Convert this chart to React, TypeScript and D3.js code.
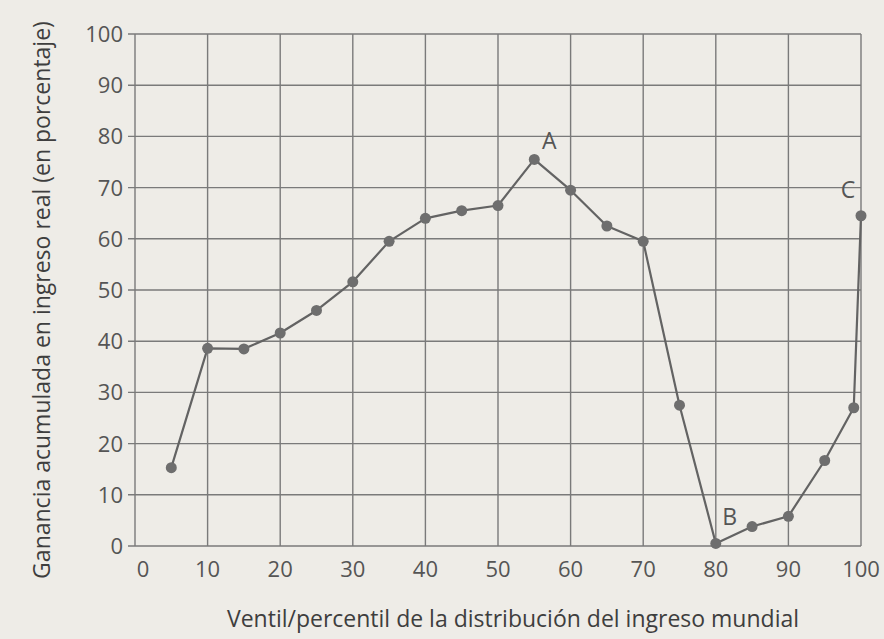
import React from "react";
import * as d3 from "d3";

// percentiles of the world income distribution
const percentiles = [5, 10, 15, 20, 25, 30, 35, 40, 45, 50, 55, 60, 65, 70, 75, 80, 85, 90, 95, 99, 100];
// cumulative real income gain (%)
const gains = [15.3, 38.6, 38.5, 41.6, 46, 51.6, 59.5, 64, 65.5, 66.5, 75.5, 69.5, 62.5, 59.5, 27.5, 0.5, 3.8, 5.8, 16.7, 27, 64.5];

const xTicks = [0, 10, 20, 30, 40, 50, 60, 70, 80, 90, 100];
const yTicks = [0, 10, 20, 30, 40, 50, 60, 70, 80, 90, 100];

const annotations = [
  {label: "A", x: 55, y: 75.5},
  {label: "B", x: 80, y: 0.5},
  {label: "C", x: 100, y: 64.5}
];
const labelOffsets: Record<string, [number, number]> = {
  A: [15, -10],
  B: [14, -18],
  C: [-13, -18]
};

const width = 884;
const height = 639;
const margin = {top: 34, right: 23, bottom: 93, left: 135};

const font = "'Open Sans', 'Noto Sans', sans-serif";
const ink = "#555";

export default function App() {
  const x = d3.scaleLinear().domain([0, 100]).range([margin.left, width - margin.right]);
  const y = d3.scaleLinear().domain([0, 100]).range([height - margin.bottom, margin.top]);

  const line = d3.line<number>()
    .x((d, i) => x(percentiles[i]))
    .y(d => y(d));

  const pathD = line(gains) || "";

  return (
    <svg width={width} height={height} style={{position: "absolute", left: 0, top: 0, background: "#eeece7"}}>
      <rect x={0} y={0} width={width} height={height} fill="#eeece7" />
      <g stroke="#7a7a7a" strokeWidth={1.4}>
        {yTicks.map(t => (
          <line key={"y" + t} x1={x(0) - 7} x2={x(100)} y1={y(t)} y2={y(t)} />
        ))}
        {xTicks.map(t => (
          <line key={"x" + t} x1={x(t)} x2={x(t)} y1={y(100)} y2={y(0)} />
        ))}
      </g>
      <g fill={ink} fontFamily={font} fontSize={22}>
        {yTicks.map(t => (
          <text key={"yl" + t} x={x(0) - 12} y={y(t)} dy="0.36em" textAnchor="end">{t}</text>
        ))}
        {xTicks.map(t => (
          <text key={"xl" + t} x={x(t) + (t === 0 ? 8 : 0)} y={y(0) + 31} textAnchor="middle">{t}</text>
        ))}
      </g>
      <path d={pathD} fill="none" stroke="#636363" strokeWidth={2.2} strokeLinejoin="round" />
      <g fill="#6e6e6e">
        {gains.map((g, i) => (
          <circle key={i} cx={x(percentiles[i])} cy={y(g)} r={5.5} />
        ))}
      </g>
      <g fill={ink} fontFamily={font} fontSize={23}>
        {annotations.map(a => (
          <text key={a.label} x={x(a.x) + labelOffsets[a.label][0]} y={y(a.y) + labelOffsets[a.label][1]} textAnchor="middle">{a.label}</text>
        ))}
      </g>
      <text x={513} y={627} textAnchor="middle" fill="#3e3e3e" fontFamily={font} fontSize={23}>
        Ventil/percentil de la distribución del ingreso mundial
      </text>
      <text transform="translate(50, 300) rotate(-90)" textAnchor="middle" fill="#3e3e3e" fontFamily={font} fontSize={23}>
        Ganancia acumulada en ingreso real (en porcentaje)
      </text>
    </svg>
  );
}
